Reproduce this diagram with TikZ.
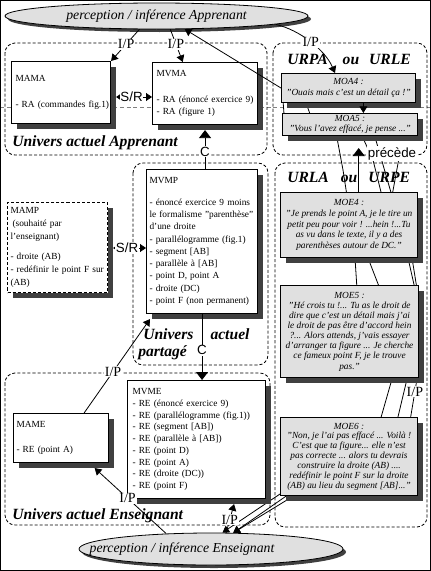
\documentclass[tikz,border=0pt]{standalone}
\usepackage{fontspec}
\setmainfont{Liberation Serif}
\setsansfont{Liberation Sans}
\usetikzlibrary{shapes.geometric,shadows,arrows.meta,calc}
\newdimen\pxu
\pxu=0.75pt
\definecolor{boxgray}{HTML}{E0E0E0}
\definecolor{shadowgray}{HTML}{404040}
\pgfdeclarelayer{background}
\pgfsetlayers{background,main}
\tikzset{
  shd/.style={drop shadow={opacity=1,fill=shadowgray,shadow xshift=5\pxu,shadow yshift=-5\pxu}},
  eshd/.style={drop shadow={opacity=1,fill=shadowgray,shadow xshift=3\pxu,shadow yshift=-3\pxu}},
  wbox/.style={draw,line width=0.8pt,fill=white,shd,anchor=north west,inner ysep=0pt,align=left,font=\fontsize{7}{9.2}\selectfont},
  gbox/.style={draw,line width=0.8pt,fill=boxgray,shd,anchor=north west,inner sep=0pt,align=center,font=\fontsize{7}{7.9}\selectfont\itshape},
  ell/.style={ellipse,draw,line width=0.6pt,fill=boxgray,eshd,inner sep=0pt,font=\fontsize{10.3}{12}\selectfont\itshape},
  univ/.style={draw,line width=0.6pt,dash pattern=on 2.3pt off 1.5pt,rounded corners=7.5pt},
  ttl/.style={inner sep=0pt,anchor=west,font=\fontsize{11.7}{13}\selectfont\bfseries\itshape},
  lnk/.style={line width=0.6pt},
  tipS/.style={-{Triangle[width=6pt,length=5pt]}},
  tipL/.style={-{Triangle[width=9pt,length=6pt]}},
  srtip/.style={{Triangle[width=6pt,length=4.5pt]}-{Triangle[width=6pt,length=4.5pt]}},
  lblI/.style={fill=white,inner sep=0.6pt,font=\fontsize{10.5}{11}\selectfont},
  lblS/.style={fill=white,inner sep=0.6pt,font=\sffamily\fontsize{10}{11}\selectfont},
}
\begin{document}
\begin{tikzpicture}[x=0.75pt,y=-0.75pt]
\useasboundingbox (0,0) rectangle (431,571);

% perception ellipses
\node[ell,minimum width=303\pxu,minimum height=26\pxu] (ea) at (156.5,16) {perception / inférence Apprenant};
\node[ell,minimum width=264\pxu,minimum height=32\pxu] (ee) at (211,549) {\makebox[0pt]{\hspace*{-58\pxu}perception / inférence Enseignant}};

% white boxes
\node[wbox,inner xsep=4\pxu,text width=91\pxu,minimum width=99\pxu,minimum height=62\pxu] (mama) at (11,61)
  {MAMA\\[10pt]\mbox{- RA (commandes fig.1)}};
\node[wbox,inner xsep=4\pxu,text width=97\pxu,minimum width=105\pxu,minimum height=62\pxu,font=\fontsize{7}{9}\selectfont] (mvma) at (152,62)
  {MVMA\\[11pt]- RA (énoncé exercice 9)\\- RA (figure 1)};
\node[wbox,inner xsep=3\pxu,text width=105\pxu,minimum width=111\pxu,minimum height=144\pxu] (mvmp) at (146,169)
  {MVMP\\[7pt]
   \mbox{- énoncé exercice 9 moins}\\
   \mbox{le formalisme "parenthèse"}\\
   d'une droite\\
   \mbox{- parallélogramme (fig.1)}\\
   - segment [AB]\\
   - parallèle à [AB]\\
   - point D, point A\\
   - droite (DC)\\
   \mbox{- point F (non permanent)}};
\node[wbox,dash pattern=on 2.3pt off 1.5pt,inner xsep=3\pxu,text width=94\pxu,minimum width=100\pxu,minimum height=90\pxu,font=\fontsize{7}{9.5}\selectfont] (mamp) at (7,202)
  {MAMP\\
   \hspace*{2\pxu}(souhaité par\\
   l'enseignant)\\[6pt]
   - droite (AB)\\
   \mbox{- redéfinir le point F sur}\\
   (AB)};
\node[wbox,inner xsep=3\pxu,text width=89\pxu,minimum width=95\pxu,minimum height=49\pxu] (mame) at (13,413)
  {MAME\\[9.5pt]- RE (point A)};
\node[wbox,inner xsep=5\pxu,text width=128\pxu,minimum width=138\pxu,minimum height=118\pxu,font=\fontsize{7}{8.8}\selectfont] (mvme) at (127,380)
  {MVME\\
   - RE (énoncé exercice 9)\\
   \mbox{- RE (parallélogramme (fig.1))}\\
   - RE (segment [AB])\\
   - RE (parallèle à [AB])\\
   - RE (point D)\\
   - RE (point A)\\
   - RE (droite (DC))\\
   - RE (point F)};

% gray boxes
\node[gbox,minimum width=134\pxu,minimum height=29\pxu,font=\fontsize{7}{8.2}\selectfont\itshape] (moa4) at (281,73)
  {MOA4 :\\"Ouais mais c'est un détail ça !"};
\node[gbox,minimum width=135\pxu,minimum height=22\pxu,font=\fontsize{7}{7.6}\selectfont\itshape] (moa5) at (282,113)
  {MOA5 :\\"Vous l'avez effacé, je pense ..."};
\node[gbox,minimum width=137\pxu,minimum height=65\pxu,font=\fontsize{7}{8.1}\selectfont\itshape] (moe4) at (280,192)
  {MOE4 :\\"Je prends le point A, je le tire un\\petit peu pour voir ! ...hein !...Tu\\as vu dans le texte, il y a des\\parenthèses autour de DC."};
\node[gbox,minimum width=138\pxu,minimum height=92\pxu,font=\fontsize{7}{7.6}\selectfont\itshape] (moe5) at (280,285)
  {MOE5 :\\"Hé crois tu !... Tu as le droit de\\dire que c'est un détail mais j'ai\\le droit de pas être d'accord hein\\?... Alors attends, j'vais essayer\\d'arranger ta figure ... Je cherche\\ce fameux point F, je le trouve\\pas."};
\node[gbox,minimum width=137\pxu,minimum height=78\pxu,font=\fontsize{7}{7.4}\selectfont\itshape] (moe6) at (280,417)
  {MOE6 :\\"Non, je l'ai pas effacé ... Voilà !\\C'est que ta figure... elle n'est\\pas correcte ... alors tu devrais\\construire la droite (AB) ....\\redéfinir le point F sur la droite\\(AB) au lieu du segment [AB]..."};

% background: guide line, universes, titles, long links
\begin{pgfonlayer}{background}
\draw[gray,line width=0.5pt,dash pattern=on 3pt off 2pt] (0,107) -- (431,107);
\draw[univ] (5,43) rectangle (267,155);
\draw[univ] (273,43) rectangle (427,155);
\draw[univ] (133,163) rectangle (268,365);
\draw[univ] (5,373) rectangle (270,525);
\draw[univ] (275,163) rectangle (427,527);
\node[ttl] (tA) at (12,142.5) {Univers actuel Apprenant};
\node[ttl] (tU1) at (287,59) {URPA\hspace{15\pxu}ou\hspace{10\pxu}URLE};
\node[ttl] (tU2) at (287,177) {URLA\hspace{12\pxu}ou\hspace{11\pxu}URPE};
\node[ttl] (tP1) at (143,334) {Univers\hspace{17\pxu}actuel};
\node[ttl] (tP2) at (138,353) {partagé};
\node[ttl] (tE) at (12,516) {Univers actuel Enseignant};
\coordinate (l1s) at (283,100);
\coordinate (l2s) at (305,100);
\coordinate (l3s) at (375,137);
\coordinate (l4s) at (399,158);
\draw[lnk,tipS] (l1s) -- (284,114) -- (337,138) -- (343,170) -- (347,196) -- (355,258) -- (357,289)
  -- (392,379) -- (380,421) -- (283,492) -- (ee.55);
\draw[lnk,tipS] (l2s) -- (310,114) -- (363,138) -- (373,160) -- (382,196) -- (368,258) -- (380,289)
  -- (407,379) -- (397,421) -- (300,492) -- (ee.36);
\draw[lnk,tipS] (l3s) -- (392,196) -- (408,258) -- (415,289) -- (417,379)
  -- (410,421) node[lblI,pos=0.3]{I/P} -- (292,492) -- (ee.36);
\draw[lnk] (l4s) -- (392,196) -- (412,258) -- (417,289) -- (400,330);
\end{pgfonlayer}

% connectors
\coordinate (srT) at (131,97);
\coordinate (srM) at (127,248);
\coordinate (m45) at ($(moa4.south west)!0.61!(moa4.south east)$);
\coordinate (pr) at ($(moe4.north west)!0.57!(moe4.north east)$);
\draw[lnk,tipS] (ea.218) -- node[lblI,pos=0.47]{I/P} (mama.north east);
\draw[lnk,tipS] (ea.316) -- node[lblI,pos=0.45]{I/P} ($(mvma.north west)!0.29!(mvma.north east)$);
\draw[lnk,tipS] (moa4.west) -- (ea.335);
\draw[lnk,tipS] (ea.-4) .. controls (300,30) and (325,50) .. ($(moa4.north west)!0.4!(moa4.north east)$) node[lblI,pos=0.5]{I/P};
\draw[lnk,srtip,shorten <=5\pxu] (mama.east |- srT) -- node[lblS]{S/R} (mvma.west |- srT);
\draw[lnk,tipL,shorten >=5\pxu] (mvma.south |- mvmp.north) -- node[lblS,pos=0.4]{C} (mvma.south);
\draw[lnk,tipS] (m45) -- (m45 |- moa5.north);
\draw[lnk,tipL,shorten >=12\pxu] (pr) -- (pr |- moa5.south) node[lblS,pos=1,anchor=north west,xshift=8\pxu,yshift=-10\pxu]{précède};
\draw[lnk,srtip,shorten <=5\pxu] (mamp.east |- srM) -- node[lblS]{S/R} (mvmp.west |- srM);
\draw[lnk,tipL] (mvmp.south) -- node[lblS,pos=0.55]{C} (mvmp.south |- mvme.north);
\draw[lnk,tipS] ($(mame.north west)!0.74!(mame.north east)$) -- node[lblI,pos=0.44]{I/P} ([xshift=4\pxu,yshift=-5\pxu]mvmp.south west);
\draw[lnk,tipS] (ee.161) -- node[lblI,pos=0.54]{I/P} ($(mame.south west)!0.85!(mame.south east)+(0,5)$);
\draw[lnk,tipS] (ee.47) -- node[lblI,pos=0.45]{I/P} ($(mvme.south west)!0.77!(mvme.south east)+(0,5)$);

% frame
\draw[line width=0.8pt] (0.5,0.5) rectangle (430.5,570.5);
\end{tikzpicture}
\end{document}
